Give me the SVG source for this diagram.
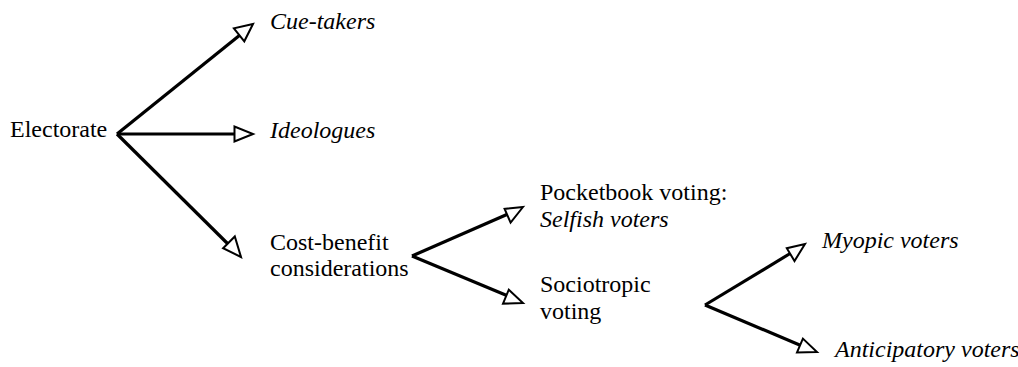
<svg xmlns="http://www.w3.org/2000/svg" width="1018" height="367" viewBox="0 0 1018 367">
<rect width="1018" height="367" fill="#fff"/>
<g id="connectors" stroke="#000" fill="none">
<g stroke-width="3.2">
<line x1="117" y1="134" x2="240" y2="35"/>
<line x1="117" y1="134" x2="236" y2="134"/>
<line x1="117" y1="134" x2="229" y2="245"/>
<line x1="412" y1="256" x2="508" y2="214"/>
<line x1="412" y1="256" x2="508" y2="296"/>
<line x1="705" y1="305" x2="791" y2="253"/>
<line x1="705" y1="305" x2="802" y2="346"/>
</g>
<g fill="#fff" stroke-width="2">
<polygon points="253,24 244.3,41.3 233.9,28.4"/>
<polygon points="253,134 234.5,141.5 234.5,126.5"/>
<polygon points="241,257 223.1,248.2 234.8,236.5"/>
<polygon points="523,207 510.6,222.6 504.6,208.9"/>
<polygon points="523,303 503.0,303.6 508.8,289.7"/>
<polygon points="805,244 794.5,261.0 786.8,248.2"/>
<polygon points="817,352 797.0,352.4 802.9,338.6"/>
</g>
</g>
<g id="electorate"><text x="10" y="137" font-size="24" font-family="Liberation Serif">Electorate</text></g>
<g id="cue-takers"><text x="270" y="29" font-size="24" font-family="Liberation Serif" font-style="italic">Cue-takers</text></g>
<g id="ideologues"><text x="270" y="138" font-size="24" font-family="Liberation Serif" font-style="italic">Ideologues</text></g>
<g id="cost-benefit"><text x="270" y="250" font-size="24" font-family="Liberation Serif">Cost-benefit</text><text x="270" y="276" font-size="24" font-family="Liberation Serif">considerations</text></g>
<g id="pocketbook"><text x="540" y="200" font-size="24" font-family="Liberation Serif">Pocketbook voting:</text><text x="540" y="227" font-size="24" font-family="Liberation Serif" font-style="italic">Selfish voters</text></g>
<g id="sociotropic"><text x="540" y="292" font-size="24" font-family="Liberation Serif">Sociotropic</text><text x="540" y="319" font-size="24" font-family="Liberation Serif">voting</text></g>
<g id="myopic"><text x="822" y="248" font-size="24" font-family="Liberation Serif" font-style="italic">Myopic voters</text></g>
<g id="anticipatory"><text x="835" y="357" font-size="24" font-family="Liberation Serif" font-style="italic">Anticipatory voters</text></g>
</svg>
